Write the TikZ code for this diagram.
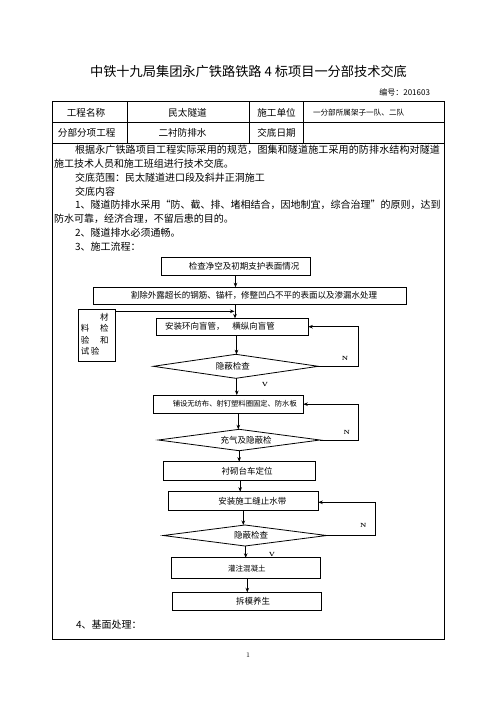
\documentclass[tikz,border=0pt]{standalone}
\usepackage{fontspec}
\newfontfamily\cjk{Noto Sans CJK SC}
\usetikzlibrary{shapes.geometric,arrows.meta}
\makeatletter
\newcommand\spreadtext[1]{\@tfor\sp@c:=#1\do{\sp@c\hfil}\unskip}
\makeatother
\begin{document}
\begin{tikzpicture}[x=1pt,y=-1pt,
  every node/.style={inner sep=0pt, outer sep=0pt},
  tbl/.style={line width=0.7pt},
  fbox/.style={draw, line width=0.8pt, minimum height=18pt, font=\cjk\fontsize{8.5}{10}\selectfont},
  dia/.style={draw, diamond, shape aspect=7, line width=0.8pt, font=\cjk\fontsize{8.5}{10}\selectfont},
  arr/.style={-{Stealth[length=4.5pt,width=3.6pt]}, line width=0.9pt},
  lbl/.style={font=\fontsize{6}{7}\selectfont\bfseries},
  body/.style={anchor=west, font=\cjk\fontsize{10}{12}\selectfont},
  cell/.style={font=\cjk\fontsize{9.6}{11}\selectfont},
  matc/.style={font=\cjk\fontsize{8.5}{10}\selectfont}
]
\useasboundingbox (0,0) rectangle (496,702);
\fill[white] (0,0) rectangle (496,702);

% header
\node[font=\cjk\fontsize{13.2}{15}\selectfont] (title) at (248.5,71.7) {中铁十九局集团永广铁路铁路 4 标项目一分部技术交底};
\node[anchor=east, font=\cjk\fontsize{8}{10}\selectfont] (num) at (430,92.5) {编号：201603};

% table
\draw[tbl] (52,101.7) rectangle (444,639.3);
\draw[tbl] (52,122.7) -- (444,122.7);
\draw[tbl] (52,143) -- (444,143);
\draw[tbl] (127,101.7) -- (127,143);
\draw[tbl] (249,101.7) -- (249,143);
\draw[tbl] (303,101.7) -- (303,143);

\node[cell] (c11) at (86,113) {工程名称};
\node[cell] (c12) at (187.5,113) {民太隧道};
\node[cell] (c13) at (276.5,113) {施工单位};
\node[anchor=west, font=\cjk\fontsize{7.6}{8}\selectfont] (c14) at (313,113) {一分部所属架子一队、二队};
\node[cell] (c21) at (86.7,133.3) {分部分项工程};
\node[cell] (c22) at (182.5,133.3) {二衬防排水};
\node[cell] (c23) at (276.5,133.3) {交底日期};

% body text
\node[body] (t1) at (75,150) {\hbox to 365pt{\spreadtext{根据永广铁路项目工程实际采用的规范，图集和隧道施工采用的防排水结构对隧道}}};
\node[body] (t2) at (54,163.8) {施工技术人员和施工班组进行技术交底。};
\node[body] (t3) at (75,177.6) {交底范围：民太隧道进口段及斜井正洞施工};
\node[body] (t4) at (75,191.4) {交底内容};
\node[body] (t5) at (75,205.2) {\hbox to 365pt{\spreadtext{1、隧道防排水采用“防、截、排、堵相结合，因地制宜，综合治理”的原则，达到}}};
\node[body] (t6) at (54,219) {防水可靠，经济合理，不留后患的目的。};
\node[body] (t7) at (75,232.8) {2、隧道排水必须通畅。};
\node[body] (t8) at (75,246.6) {3、施工流程：};
\node[body] (t9) at (76,625) {4、基面处理：};

% flowchart
\node[fbox, minimum width=149pt] (b1) at (235.5,266) {\hspace*{17pt}检查净空及初期支护表面情况};
\node[fbox, minimum width=313.4pt, minimum height=17pt] (b2) at (250,295.8) {\hspace*{8pt}割除外露超长的钢筋、锚杆，修整凹凸不平的表面以及渗漏水处理};
\node[fbox, minimum width=151.6pt, minimum height=16.7pt] (b3) at (232.5,326.7) {安装环向盲管，\hspace{8pt}横纵向盲管\hspace*{25pt}};
\node[draw, line width=0.8pt, minimum width=36.7pt, minimum height=52.4pt] (mat) at (96.7,335.5) {};
\node[matc] (m1) at (104.3,317) {材};
\node[matc] (m2) at (85,328.5) {料};
\node[matc] (m3) at (104.3,328.5) {检};
\node[matc] (m4) at (85,340) {验};
\node[matc] (m5) at (104.3,340) {和};
\node[matc] (m6) at (85,351.5) {试};
\node[matc] (m7) at (95,351.5) {验};
\node[dia, minimum width=165pt, minimum height=24pt] (d1) at (235.8,366.3) {隐蔽检查\hspace*{6pt}};
\node[fbox, minimum width=150pt, minimum height=18.3pt, font=\cjk\fontsize{7.3}{9}\selectfont] (b4) at (228.3,404.2) {\hspace*{13pt}铺设无纺布、射钉塑料圈固定、防水板};
\node[dia, minimum width=161.7pt, minimum height=21.4pt] (d2) at (239.2,440) {\hspace*{14pt}充气及隐蔽检};
\node[fbox, minimum width=151.7pt, minimum height=18.3pt] (b5) at (239.2,470.8) {\hspace*{16pt}衬砌台车定位};
\node[fbox, minimum width=150pt, minimum height=18.3pt] (b6) at (243.3,500.8) {\hspace*{18pt}安装施工缝止水带};
\node[dia, minimum width=163.4pt, minimum height=21pt] (d3) at (245,535.5) {\hspace*{12pt}隐蔽检查};
\node[fbox, minimum width=148.3pt, minimum height=21pt, font=\cjk\fontsize{7.5}{9}\selectfont] (b7) at (245.8,568.3) {\hspace*{2pt}灌注混凝土};
\node[fbox, minimum width=149pt, minimum height=18.4pt] (b8) at (247.2,601.5) {\hspace*{12pt}拆模养生};

% connectors
\draw[arr] (b1.south) -- (b1.south |- b2.north);
\draw[arr] ([xshift=2.5pt]b2.south -| b3.north) -- ([xshift=2.5pt]b3.north);
\draw[arr] ([yshift=-2pt]mat.north east) -- ([yshift=-2pt,xshift=2pt]mat.north east -| b3.north);
\draw[arr] ([xshift=4pt]b3.south) -- ([xshift=4pt]b3.south |- d1.north);
\draw[arr] (d1.east) -- ++(40,0) |- (b3.east);
\draw[arr] ([xshift=1pt]d1.south) -- ([xshift=1pt]d1.south |- b4.north);
\draw[arr] ([xshift=10pt]b4.south) -- ([xshift=10pt]b4.south |- d2.north);
\draw[arr] (d2.east) -- ++(38.3,0) |- (b4.east);
\draw[arr] (d2.south) -- (d2.south |- b5.north);
\draw[arr] ([xshift=1pt]b5.south) -- ([xshift=1pt]b5.south |- b6.north);
\draw[arr] (b6.south) -- (b6.south |- d3.north);
\draw[arr] ([xshift=0.7pt]d3.south) -- ([xshift=0.7pt]d3.south |- b7.north);
\draw[arr] ([xshift=1.5pt]b7.south) -- ([xshift=1.5pt]b7.south |- b8.north);
\draw[arr] (d3.east) -- ++(48.3,0) |- ([yshift=-1.5pt]b6.east);

\node[lbl] (n1) at (345,358.3) {N};
\node[lbl] (n2) at (346.7,432.7) {N};
\node[lbl] (n3) at (363.3,525.7) {N};
\node[lbl] (v1) at (265,384.3) {V};
\node[lbl] (v2) at (272,554) {V};

\node[font=\fontsize{7}{8}\selectfont] (pg) at (248,655) {1};
\end{tikzpicture}
\end{document}
